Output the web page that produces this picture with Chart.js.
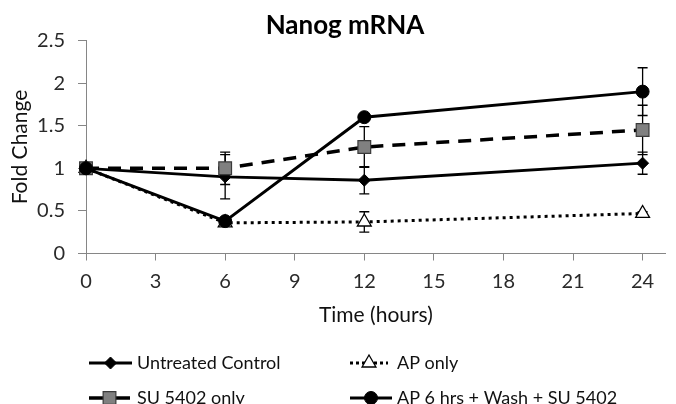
<!DOCTYPE html>
<html>
<head>
<meta charset="utf-8">
<script src="https://cdn.jsdelivr.net/npm/chart.js@4.4.1/dist/chart.umd.min.js"></script>
<style>
  html, body { margin: 0; padding: 0; background: #fff; }
  #wrap { width: 676px; height: 404px; position: relative; }
</style>
</head>
<body>
<div id="wrap"><canvas id="chart"></canvas></div>
<script>
// Time points (hours) and x-axis tick labels
const hours = [0, 6, 12, 24];
const xTicks = [0, 3, 6, 9, 12, 15, 18, 21, 24];

// Fold change values, with error bar sizes
const untreated = [1.0, 0.90, 0.86, 1.06];
const untreatedErr = [0, 0.26, 0.16, 0.13];
const apOnly = [1.0, 0.36, 0.37, 0.47];
const apOnlyErr = [0, 0.02, 0.12, 0.02];
const su5402 = [1.0, 1.0, 1.25, 1.45];
const su5402Err = [0, 0.19, 0.24, 0.29];
const ap6 = [1.0, 0.38, 1.60, 1.90];
const ap6Err = [0, 0.03, 0.02, 0.28];

const seriesNames = ['Untreated Control', 'AP only', 'SU 5402 only', 'AP 6 hrs + Wash + SU 5402'];
const chartTitle = 'Nanog mRNA';

const FONT = 'Lato, "Noto Sans", sans-serif';

function points(values) {
  return hours.map((h, i) => ({ x: h, y: values[i] }));
}

// Draws vertical error bars under the markers
const errorBars = {
  id: 'errorBars',
  beforeDatasetsDraw(chart) {
    const ctx = chart.ctx;
    const yScale = chart.scales.y;
    ctx.save();
    ctx.strokeStyle = '#000';
    ctx.lineWidth = 1.3;
    chart.data.datasets.forEach((ds, i) => {
      const meta = chart.getDatasetMeta(i);
      meta.data.forEach((pt, j) => {
        const err = ds.errors[j];
        if (!err) return;
        const v = ds.data[j].y;
        const top = yScale.getPixelForValue(v + err);
        const bot = yScale.getPixelForValue(v - err);
        ctx.beginPath();
        ctx.moveTo(pt.x, top); ctx.lineTo(pt.x, bot);
        ctx.moveTo(pt.x - 5, top); ctx.lineTo(pt.x + 5, top);
        ctx.moveTo(pt.x - 5, bot); ctx.lineTo(pt.x + 5, bot);
        ctx.stroke();
      });
    });
    ctx.restore();
  }
};

// Title and the 2x2 legend below the axis
const extras = {
  id: 'extras',
  afterDraw(chart) {
    const ctx = chart.ctx;
    ctx.save();
    ctx.fillStyle = '#000';
    ctx.font = 'bold 26px ' + FONT;
    ctx.textAlign = 'center';
    ctx.textBaseline = 'middle';
    ctx.fillText(chartTitle, 345, 26);

    const slots = [
      { x: 89, len: 43, tx: 137, y: 363 },
      { x: 350, len: 38, tx: 397, y: 363 },
      { x: 89, len: 41, tx: 137, y: 398 },
      { x: 350, len: 42, tx: 397, y: 398 }
    ];
    chart.data.datasets.forEach((ds, i) => {
      const s = slots[i];
      ctx.save();
      ctx.strokeStyle = ds.borderColor;
      ctx.lineWidth = ds.borderWidth;
      ctx.setLineDash(ds.legendDash || []);
      ctx.beginPath();
      ctx.moveTo(s.x, s.y);
      ctx.lineTo(s.x + s.len, s.y);
      ctx.stroke();
      ctx.setLineDash([]);
      ctx.fillStyle = ds.pointBackgroundColor;
      ctx.strokeStyle = ds.pointBorderColor;
      ctx.lineWidth = ds.pointBorderWidth;
      Chart.helpers.drawPoint(ctx, {
        pointStyle: ds.pointStyle, radius: ds.pointRadius,
        rotation: 0, borderWidth: ds.pointBorderWidth
      }, s.x + s.len / 2, s.y);
      ctx.restore();
      ctx.fillStyle = '#111';
      ctx.font = '18px ' + FONT;
      ctx.textAlign = 'left';
      ctx.textBaseline = 'middle';
      ctx.fillText(seriesNames[i], s.tx, s.y);
    });
    ctx.restore();
  }
};

new Chart(document.getElementById('chart'), {
  type: 'line',
  data: {
    datasets: [
      {
        label: seriesNames[0], data: points(untreated), errors: untreatedErr, order: 3,
        borderColor: '#000', borderWidth: 2.8,
        pointStyle: 'rectRot', pointRadius: 6,
        pointBackgroundColor: '#000', pointBorderColor: '#000', pointBorderWidth: 1
      },
      {
        label: seriesNames[1], data: points(apOnly), errors: apOnlyErr, order: 2,
        borderColor: '#000', borderWidth: 3, borderDash: [3, 4], legendDash: [3, 3],
        pointStyle: 'triangle', pointRadius: 8,
        pointBackgroundColor: '#fff', pointBorderColor: '#000', pointBorderWidth: 1.3
      },
      {
        label: seriesNames[2], data: points(su5402), errors: su5402Err, order: 1,
        borderColor: '#000', borderWidth: 3.5, borderDash: [13, 9],
        pointStyle: 'rect', pointRadius: 9,
        pointBackgroundColor: '#808080', pointBorderColor: '#3a3a3a', pointBorderWidth: 1.2
      },
      {
        label: seriesNames[3], data: points(ap6), errors: ap6Err, order: 0,
        borderColor: '#000', borderWidth: 3,
        pointStyle: 'circle', pointRadius: 6.5,
        pointBackgroundColor: '#000', pointBorderColor: '#000', pointBorderWidth: 1
      }
    ]
  },
  options: {
    responsive: true,
    maintainAspectRatio: false,
    animation: false,
    clip: false,
    layout: { padding: { top: 40.5, left: 0, right: 0, bottom: 0 } },
    plugins: {
      legend: { display: false },
      title: { display: false },
      tooltip: { enabled: false }
    },
    scales: {
      x: {
        type: 'linear', min: 0, max: 25,
        afterBuildTicks: axis => { axis.ticks = xTicks.map(v => ({ value: v })); },
        afterFit: s => { s.height = 150.5; },
        grid: { drawOnChartArea: false, tickLength: 7, color: '#868686' },
        border: { color: '#868686', width: 1 },
        ticks: { color: '#2a2a2a', font: { family: FONT, size: 20 }, padding: 9, maxRotation: 0 },
        title: {
          display: true, text: 'Time (hours)', color: '#111',
          font: { family: FONT, size: 21 }, padding: { top: 0, bottom: 76 }
        }
      },
      y: {
        min: 0, max: 2.5,
        afterFit: s => { s.width = 86; },
        grid: { drawOnChartArea: false, tickLength: 8, color: '#868686' },
        border: { color: '#868686', width: 1 },
        ticks: {
          stepSize: 0.5, color: '#2a2a2a', font: { family: FONT, size: 20 }, padding: 13,
          callback: v => String(Number(v.toFixed(1)))
        },
        title: {
          display: true, text: 'Fold Change', color: '#111',
          font: { family: FONT, size: 21 }, padding: { top: 7.4, bottom: 0 }
        }
      }
    }
  },
  plugins: [errorBars, extras]
});
</script>
</body>
</html>
